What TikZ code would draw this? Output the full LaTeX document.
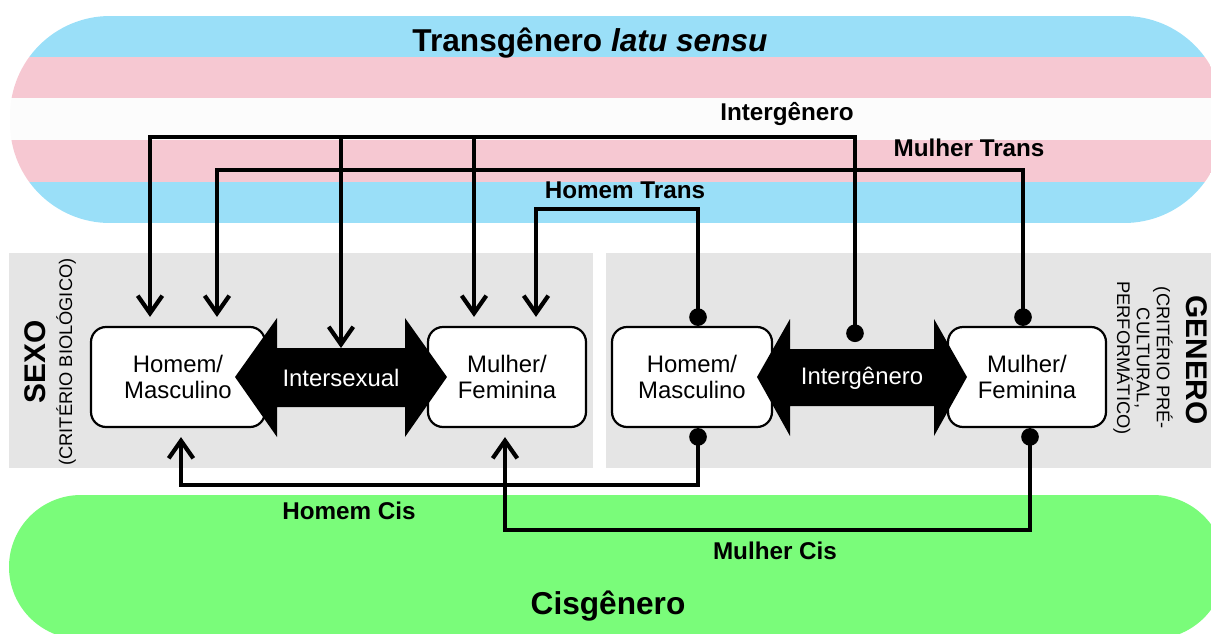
\documentclass[tikz,border=0pt]{standalone}
\usepackage{fontspec}
\setmainfont{Liberation Sans}
\usepackage{tikz}
\usetikzlibrary{arrows.meta,calc,positioning}

\definecolor{transblue}{HTML}{9ADFF8}
\definecolor{transpink}{HTML}{F6C8D2}
\definecolor{transwhite}{HTML}{FCFCFC}
\definecolor{panelgray}{HTML}{E5E5E5}
\definecolor{cisgreen}{HTML}{7AFC7A}

\newcommand{\boxfont}{\fontsize{13.6pt}{15.3pt}\selectfont}
\newcommand{\labfont}{\fontsize{13.8pt}{15pt}\selectfont\bfseries}
\newcommand{\bigfont}{\fontsize{18pt}{20pt}\selectfont\bfseries}
\newcommand{\axisfont}{\fontsize{17pt}{19pt}\selectfont\bfseries}
\newcommand{\subfont}{\fontsize{10.4pt}{11.3pt}\selectfont}

\tikzset{
	idbox/.style={draw,line width=1.25pt,rounded corners=0.3cm,fill=white,align=center,minimum height=2cm,font=\boxfont,inner sep=0pt},
	dbarrow/.style={fill=black},
	arrowtext/.style={text=white,font=\boxfont},
	link/.style={line width=2.4pt},
	tolink/.style={link,-{Straight Barb[length=10pt,width=14pt]}},
	dotlink/.style={link,{Circle[length=10pt]}-{Straight Barb[length=10pt,width=14pt]}},
	linklabel/.style={font=\labfont},
}

\begin{document}
\begin{tikzpicture}[x=0.02cm,y=-0.02cm]
	\useasboundingbox (0,0) rectangle (1211,633);
	\clip (0,0) rectangle (1211,633);
	\begin{scope}
		\clip[rounded corners=2cm] (10,16) rectangle (1224,223);
		\fill[transblue] (0,16) rectangle (1230,57);
		\fill[transpink] (0,57) rectangle (1230,98);
		\fill[transwhite] (0,98) rectangle (1230,140);
		\fill[transpink] (0,140) rectangle (1230,182);
		\fill[transblue] (0,182) rectangle (1230,223);
	\end{scope}
	\fill[cisgreen,rounded corners=1.44cm] (9,495) rectangle (1225,639);
	\fill[panelgray] (9,253) rectangle (593,468);
	\fill[panelgray] (606,253) rectangle (1211,468);

	\node[idbox,minimum width=3.48cm] (hm) at (178,377) {Homem/\\Masculino};
	\node[idbox,minimum width=3.16cm] (mf) at (507,377) {Mulher/\\Feminina};
	\node[idbox,minimum width=3.2cm] (hg) at (692,377) {Homem/\\Masculino};
	\node[idbox,minimum width=3.16cm] (fg) at (1027,377) {Mulher/\\Feminina};

	\fill[dbarrow] (235,377) -- (277,318) -- (277,348) -- (405,348) -- (405,318) -- (447,377) -- (405,437) -- (405,407) -- (277,407) -- (277,437) -- cycle;
	\node[arrowtext] (isx) at (341,378) {Intersexual};
	\fill[dbarrow] (757,377) -- (790,319) -- (790,349) -- (934,349) -- (934,319) -- (967,377) -- (934,436) -- (934,406) -- (790,406) -- (790,436) -- cycle;
	\node[arrowtext] (igx) at (862,378) {Intergênero};

	\coordinate (hmA) at ([xshift=-0.56cm,yshift=0.18cm]hm.north);
	\coordinate (hmB) at ([xshift=0.78cm,yshift=0.18cm]hm.north);
	\coordinate (hmC) at ([xshift=0.06cm,yshift=-0.18cm]hm.south);
	\coordinate (mfA) at ([xshift=-0.66cm,yshift=0.18cm]mf.north);
	\coordinate (mfB) at ([xshift=0.58cm,yshift=0.18cm]mf.north);
	\coordinate (mfC) at ([xshift=-0.04cm,yshift=-0.18cm]mf.south);
	\coordinate (hgT) at ([xshift=0.12cm]hg.north);
	\coordinate (hgB) at ([xshift=0.12cm]hg.south);
	\coordinate (fgT) at ([xshift=-0.08cm]fg.north);
	\coordinate (fgB) at ([xshift=0.06cm]fg.south);
	\coordinate (isT) at ([yshift=0.6cm]isx.center);
	\coordinate (igD) at ([xshift=-0.14cm,yshift=0.72cm]igx.center);

	\draw[dotlink] (igD) |- (hmA |- 0,137) -- (hmA);
	\draw[tolink] (isT |- 0,137) -- (isT);
	\draw[tolink] (mfA |- 0,137) -- (mfA);
	\draw[dotlink] (fgT) |- (hmB |- 0,170) -- (hmB);
	\draw[dotlink] (hgT) |- (mfB |- 0,209) -- (mfB);
	\draw[dotlink] (hgB) |- (hmC |- 0,485) -- (hmC);
	\draw[dotlink] (fgB) |- (mfC |- 0,530) -- (mfC);

	\node[linklabel] (lig) at (787,114) {Intergênero};
	\node[linklabel] (lmt) at (969,148) {Mulher Trans};
	\node[linklabel] (lht) at (625,190) {Homem Trans};
	\node[linklabel] (lhc) at (349,511) {Homem Cis};
	\node[linklabel] (lmc) at (775,551) {Mulher Cis};
	\node[font=\bigfont] (trans) at (590,43) {Transgênero \textit{latu sensu}};
	\node[font=\bigfont] (cis) at (608,606) {Cisgênero};
	\node[font=\axisfont,rotate=90] (sexo) at (35,362) {SEXO};
	\node[font=\subfont,rotate=90] (sexosub) at (66,362) {(CRITÉRIO BIOLÓGICO)};
	\node[font=\axisfont,rotate=-90] (genero) at (1197,360) {GENERO};
	\node[font=\subfont,rotate=-90,align=center] (gensub) at (1143,358) {(CRITÉRIO PRÉ-\\CULTURAL,\\PERFORMÁTICO)};
\end{tikzpicture}
\end{document}
